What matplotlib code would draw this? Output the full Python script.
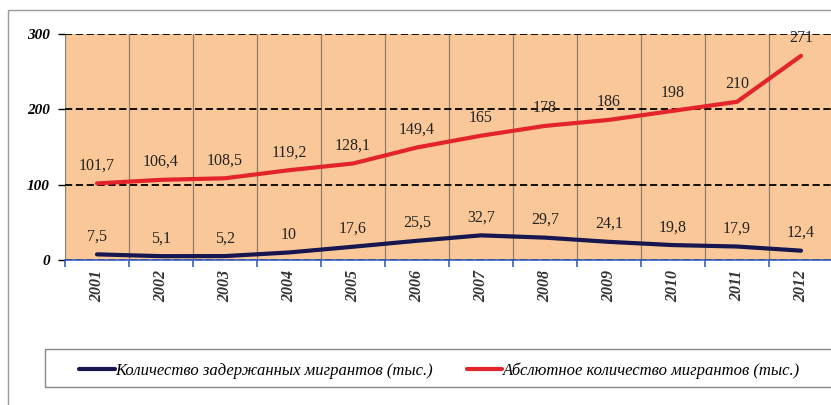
import matplotlib.pyplot as plt
import numpy as np
from matplotlib.patches import Rectangle

# data
years = ['2001', '2002', '2003', '2004', '2005', '2006',
         '2007', '2008', '2009', '2010', '2011', '2012']
detained = [7.5, 5.1, 5.2, 10, 17.6, 25.5, 32.7, 29.7, 24.1, 19.8, 17.9, 12.4]
absolute = [101.7, 106.4, 108.5, 119.2, 128.1, 149.4, 165, 178, 186, 198, 210, 271]
detained_lbl = ['7,5', '5,1', '5,2', '10', '17,6', '25,5', '32,7', '29,7', '24,1', '19,8', '17,9', '12,4']
absolute_lbl = ['101,7', '106,4', '108,5', '119,2', '128,1', '149,4', '165', '178', '186', '198', '210', '271']
yticks = [0, 100, 200, 300]

plt.rcParams['font.family'] = ['Liberation Serif', 'DejaVu Serif']

fig = plt.figure(figsize=(8.31, 4.05), dpi=100)
ax = fig.add_axes([65 / 831, 1 - 260 / 405, 768 / 831, 226 / 405])

# outer frame and legend box
fig.patches.append(Rectangle((8 / 831, -0.05), 1, 1.05 - 10 / 405, transform=fig.transFigure,
                             fill=False, edgecolor='#9a9a9a', lw=1.0))
fig.patches.append(Rectangle((45 / 831, 1 - 387 / 405), 1, 38 / 405, transform=fig.transFigure,
                             fill=False, edgecolor='#8a8a8a', lw=1.0))

x = np.arange(len(years))
ax.set_facecolor('#fac898')
ax.plot(x, detained, color='#161650', lw=3, solid_capstyle='round',
        label='Количество задержанных мигрантов (тыс.)', zorder=3)
ax.plot(x, absolute, color='#e3242b', lw=3, solid_capstyle='round',
        label='Абслютное количество мигрантов (тыс.)', zorder=3)

for xi, v, t in zip(x, detained, detained_lbl):
    ax.annotate(t, (xi, v), xytext=(0, 7), textcoords='offset points',
                ha='center', va='bottom', fontsize=11.5, color='#222222')
for xi, v, t in zip(x, absolute, absolute_lbl):
    ax.annotate(t, (xi, v), xytext=(0, 7), textcoords='offset points',
                ha='center', va='bottom', fontsize=11.5, color='#222222')

ax.set_xlim(-0.5, 11.5)
ax.set_ylim(0, 300)
ax.set_xticks(x)
ax.set_xticklabels(years, rotation=90, fontsize=11.5, fontstyle='italic',
                   fontweight='bold', color='#333333')
ax.set_xticks(np.arange(-0.5, 12, 1), minor=True)
ax.tick_params(axis='x', which='major', length=0, pad=7)
ax.tick_params(axis='x', which='minor', length=5, color='#3b5fc0', width=1.2)
ax.set_yticks(yticks)
ax.set_yticklabels([str(t) for t in yticks], fontsize=11, fontstyle='italic', fontweight='bold')
ax.tick_params(axis='y', length=5, width=1, pad=6)

ax.grid(which='minor', axis='x', color='#8c7c6c', lw=0.9)
ax.grid(which='major', axis='x', visible=False)
ax.grid(which='major', axis='y', color='black', lw=1.3, ls=(0, (4, 2)))
ax.set_axisbelow(True)

for s in ['top', 'right', 'left']:
    ax.spines[s].set_visible(False)
ax.spines['bottom'].set_color('#3b5fc0')
ax.spines['bottom'].set_linewidth(1.2)

leg = fig.legend(loc='center left', bbox_to_anchor=(79 / 831, 1 - 371 / 405), ncol=2,
                 frameon=False, handlelength=2.15, handletextpad=0.05, columnspacing=2.0,
                 borderpad=0, borderaxespad=0, prop={'style': 'italic', 'size': 12})

fig.savefig('out.png', dpi=100)
